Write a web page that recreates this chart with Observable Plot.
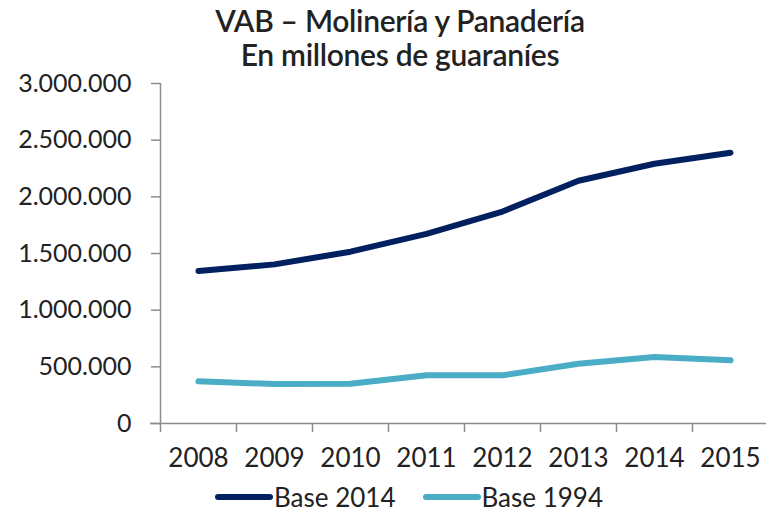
<!DOCTYPE html>
<html>
<head>
<meta charset="utf-8">
<script src="https://cdn.jsdelivr.net/npm/d3@7"></script>
<script src="https://cdn.jsdelivr.net/npm/@observablehq/plot@0.6"></script>
<style>
  html, body { margin: 0; padding: 0; background: #fff; }
  #wrap { position: relative; width: 766px; height: 513px; overflow: hidden; font-family: Lato, "Open Sans", sans-serif; color: #222; }
  #title { position: absolute; left: 0; top: 3px; width: 800px; text-align: center; font-size: 30px; font-weight: 600; line-height: 34px; letter-spacing: -0.3px; }
  #legend { position: absolute; left: 0; top: 482px; width: 818px; display: flex; justify-content: center; gap: 27px; font-size: 26px; line-height: 30px; }
  #legend span.item { display: inline-flex; align-items: center; gap: 1px; }
  #chart { position: absolute; left: 0; top: 0; }
</style>
</head>
<body>
<div id="wrap">
  <div id="chart"></div>
  <div id="title">VAB – Molinería y Panadería<br>En millones de guaraníes</div>
  <div id="legend"></div>
</div>
<script>
const years = [2008, 2009, 2010, 2011, 2012, 2013, 2014, 2015];
const base2014 = [1345000, 1404000, 1516000, 1673000, 1870000, 2142000, 2292000, 2389000];
const base1994 = [372000, 348000, 351000, 425000, 425000, 528000, 587000, 558000];
const seriesNames = ["Base 2014", "Base 1994"];
const seriesColors = ["#002060", "#4bacc6"];
const yTicks = [0, 500000, 1000000, 1500000, 2000000, 2500000, 3000000];

const data = [
  ...years.map((y, i) => ({year: y, value: base2014[i], serie: seriesNames[0]})),
  ...years.map((y, i) => ({year: y, value: base1994[i], serie: seriesNames[1]}))
];
const boundaries = [...years.map(y => y - 0.5), years[years.length - 1] + 0.5];

const fmt = v => v === 0 ? "0" : d3.format(",")(v).replace(/,/g, ".");
const axisColor = "#8c8c8c";

const chart = Plot.plot({
  width: 766,
  height: 513,
  marginTop: 83,
  marginBottom: 90,
  marginLeft: 160,
  marginRight: 0,
  style: {fontFamily: "Lato, 'Open Sans', sans-serif", fontSize: "25px", color: "#222", background: "transparent"},
  x: {domain: [years[0] - 0.5, years[years.length - 1] + 0.5], range: [160, 768]},
  y: {domain: [0, 3000000]},
  color: {domain: seriesNames, range: seriesColors},
  marks: [
    Plot.axisY({ticks: yTicks, tickFormat: fmt, tickSize: 9, tickPadding: 20, stroke: axisColor, fill: "#222", label: null, strokeWidth: 1.5, fontSize: 25}),
    Plot.axisX({ticks: boundaries, tickFormat: () => "", tickSize: 9, stroke: axisColor, label: null, strokeWidth: 1.5}),
    Plot.axisX({ticks: years, tickFormat: d => String(d), tickSize: 0, tickPadding: 25, fill: "#222", label: null, fontSize: 26}),
    Plot.ruleX([years[0] - 0.5], {stroke: axisColor, strokeWidth: 1.5, y1: 0, y2: 3000000}),
    Plot.ruleY([0], {stroke: axisColor, strokeWidth: 1.5, insetLeft: -10}),
    Plot.line(data, {x: "year", y: "value", z: "serie", stroke: "serie", strokeWidth: 6, strokeLinecap: "round", strokeLinejoin: "round"})
  ]
});
document.getElementById("chart").appendChild(chart);

const legend = document.getElementById("legend");
seriesNames.forEach((name, i) => {
  const item = document.createElement("span");
  item.className = "item";
  item.innerHTML = `<svg width="58" height="10"><line x1="3" y1="5" x2="55" y2="5" stroke="${seriesColors[i]}" stroke-width="6" stroke-linecap="round"/></svg><span>${name}</span>`;
  legend.appendChild(item);
});
</script>
</body>
</html>
